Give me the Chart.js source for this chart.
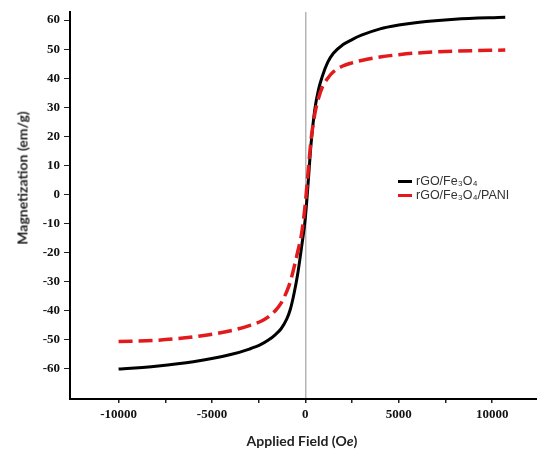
<!DOCTYPE html>
<html lang="en">
<head>
    <meta charset="UTF-8">
    <title>Magnetization curves</title>
    <script src="https://cdn.jsdelivr.net/npm/chart.js"></script>
    <style>
        body {
            margin: 0;
            background-color: #fff;
        }

        .wrap {
            position: relative;
            width: 537px;
            height: 449px;
        }

        .yTitle {
            position: absolute;
            left: 22px;
            top: 178px;
            transform: translate(-50%, -50%) rotate(-90deg);
            font: bold 14px Lato, sans-serif;
            color: #222;
            white-space: nowrap;
        }

        .xTitle {
            position: absolute;
            left: 302px;
            top: 440px;
            transform: translate(-50%, -50%);
            font: bold 14px Lato, sans-serif;
            color: #222;
            white-space: nowrap;
        }

        .legend {
            position: absolute;
            left: 398px;
            top: 174px;
            font: 12.5px 'Liberation Sans', Arial, sans-serif;
            color: #333;
        }

        .legend div {
            height: 14px;
            line-height: 14px;
            white-space: nowrap;
        }

        .legend span.swatch {
            display: inline-block;
            width: 14px;
            height: 0;
            border-top: 3px solid #000;
            vertical-align: middle;
            margin-right: 4px;
        }
    </style>
</head>
<body>
    <div class="wrap">
        <canvas id="magChart" width="537" height="449"></canvas>
        <div class="yTitle">Magnetization (em/g)</div>
        <div class="xTitle">Applied Field (O<i>e</i>)</div>
        <div class="legend">
            <div><span class="swatch"></span>rGO/Fe₃O₄</div>
            <div><span class="swatch" style="border-top-color:#e31a1c"></span>rGO/Fe₃O₄/PANI</div>
        </div>
    </div>

    <script>
        // applied field (Oe)
        const field = [-10000, -8000, -6000, -4000, -3000, -2400, -2000, -1600, -1300, -1000, -800, -600, -400, -200, 0,
                       150, 300, 500, 700, 900, 1200, 1500, 2000, 2500, 3000, 4000, 5000, 6000, 8000, 10700];

        // magnetization (emu/g)
        const rgoFe3o4 = [-60.2, -59.2, -57.7, -55.2, -53.3, -51.8, -50.3, -48.3, -46.3, -43, -39.5, -34, -27, -18, -8,
                          4, 17, 29, 36, 40.5, 45.5, 48.6, 51.5, 53.3, 54.8, 57, 58.3, 59.2, 60.3, 61];
        const rgoFe3o4Pani = [-50.7, -50.3, -49.1, -47.0, -45.2, -43.8, -42.3, -40, -37.5, -33.5, -30, -25, -19.5, -13.5, -3,
                              8, 18.5, 27.5, 33, 36.8, 40, 42.2, 44.2, 45.3, 46.1, 47.3, 48.1, 48.7, 49.3, 49.7];

        const yTicks = [-60, -50, -40, -30, -20, -10, 0, 10, 20, 30, 40, 50, 60];
        const xTicks = [-10000, -7500, -5000, -2500, 0, 2500, 5000, 7500, 10000];
        const xLabels = [-10000, -5000, 0, 5000, 10000];

        function toPoints(ys) {
            return field.map((x, i) => ({ x: x, y: ys[i] }));
        }

        const tickFont = { family: "'Liberation Serif', 'Times New Roman', serif", size: 13, weight: 'bold' };

        var ctx = document.getElementById('magChart').getContext('2d');
        var magChart = new Chart(ctx, {
            type: 'scatter',
            data: {
                datasets: [
                    {
                        label: 'rGO/Fe₃O₄',
                        data: toPoints(rgoFe3o4),
                        showLine: true,
                        borderColor: '#000',
                        borderWidth: 3,
                        pointRadius: 0,
                        cubicInterpolationMode: 'monotone',
                        order: 2
                    },
                    {
                        label: 'rGO/Fe₃O₄/PANI',
                        data: toPoints(rgoFe3o4Pani),
                        showLine: true,
                        borderColor: '#e31a1c',
                        borderWidth: 3.5,
                        borderDash: [14, 6],
                        pointRadius: 0,
                        cubicInterpolationMode: 'monotone',
                        order: 1
                    }
                ]
            },
            options: {
                responsive: false,
                animation: false,
                layout: { padding: { top: 12, right: 0, left: 0, bottom: 0 } },
                plugins: {
                    legend: { display: false },
                    tooltip: { enabled: false }
                },
                scales: {
                    x: {
                        type: 'linear',
                        min: -12600,
                        max: 12400,
                        afterBuildTicks: scale => {
                            scale.ticks = xTicks.map(v => ({ value: v }));
                        },
                        afterFit: scale => {
                            scale.height = 50;
                        },
                        border: { color: '#000', width: 2 },
                        grid: {
                            color: c => (c.tick && c.tick.value === 0) ? '#b5b5b5' : 'rgba(0,0,0,0)',
                            lineWidth: 1.5,
                            tickColor: '#222',
                            tickLength: 4,
                            drawOnChartArea: true
                        },
                        ticks: {
                            autoSkip: false,
                            maxRotation: 0,
                            padding: 4,
                            color: '#111',
                            font: tickFont,
                            callback: v => xLabels.includes(v) ? String(v) : ''
                        }
                    },
                    y: {
                        min: -70.5,
                        max: 62.8,
                        afterBuildTicks: scale => {
                            scale.ticks = yTicks.map(v => ({ value: v }));
                        },
                        afterFit: scale => {
                            scale.width = 70;
                        },
                        border: { color: '#000', width: 2 },
                        grid: {
                            drawOnChartArea: false,
                            tickColor: '#222',
                            tickLength: 6
                        },
                        ticks: {
                            padding: 4,
                            color: '#111',
                            font: tickFont
                        }
                    }
                }
            }
        });
    </script>
</body>
</html>
